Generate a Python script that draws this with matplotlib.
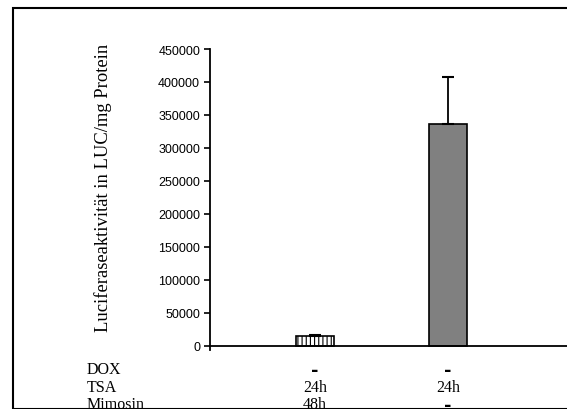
import numpy as np
import matplotlib.pyplot as plt
from matplotlib.patches import Rectangle
from matplotlib.transforms import blended_transform_factory

# data
values = [15000, 337000]
errors = [2000, 71000]
positions = [1, 2]
row_names = ['DOX', 'TSA', 'Mimosin']
row_values = [['-', '24h', '48h'],
              ['-', '24h', '-']]
y_ticks = np.arange(0, 450001, 50000)

plt.rcParams['hatch.linewidth'] = 0.8

fig = plt.figure(figsize=(5.67, 4.10), dpi=100)
ax = fig.add_axes([0.370, 0.143, 0.630, 0.735])

ax.bar(positions[0], values[0], width=0.29, color='white', edgecolor='black',
       linewidth=1.2, hatch='||||')
ax.bar(positions[1], values[1], width=0.29, color='#808080', edgecolor='black',
       linewidth=1.2)
ax.errorbar(positions, values, yerr=[[0, 0], errors], fmt='none', ecolor='black',
            elinewidth=1.3, capsize=4, capthick=1.5)

ax.set_xlim(0.21, 2.895)
ax.set_ylim(-7000, 450000)
ax.set_yticks(y_ticks)
ax.set_yticklabels([str(v) for v in y_ticks], fontsize=9, family='Liberation Sans')
ax.tick_params(axis='y', direction='out', length=4, width=1.2, pad=3)
ax.set_xticks([])
ax.spines['top'].set_visible(False)
ax.spines['right'].set_visible(False)
ax.spines['bottom'].set_position(('data', 0))
ax.spines['left'].set_linewidth(1.3)
ax.spines['bottom'].set_linewidth(1.3)

fig.text(103 / 567, 1 - 188 / 410, 'Luciferaseaktivität in LUC/mg Protein',
         rotation=90, ha='center', va='center', fontsize=13.4, family='Liberation Serif')

# treatment table below the bars
row_y = [370, 388, 405]
for name, y in zip(row_names, row_y):
    fig.text(87 / 567, 1 - y / 410, name, ha='left', va='center',
             fontsize=11.5, family='Liberation Serif')
trans = blended_transform_factory(ax.transData, fig.transFigure)
for pos, vals in zip(positions, row_values):
    for v, y in zip(vals, row_y):
        if v == '-':
            ax.text(pos, 1 - (y + 1) / 410, v, transform=trans, ha='center', va='center',
                    fontsize=13, family='DejaVu Sans', fontweight='bold', clip_on=False)
        else:
            ax.text(pos, 1 - y / 410, v, transform=trans, ha='center', va='center',
                    fontsize=11.5, family='Liberation Serif', clip_on=False)

# outer frame
fig.patches.append(Rectangle((13 / 567, 0), 1, 1 - 9 / 410, transform=fig.transFigure,
                             fill=False, edgecolor='black', linewidth=1.5))

fig.savefig('out.png', dpi=100)
